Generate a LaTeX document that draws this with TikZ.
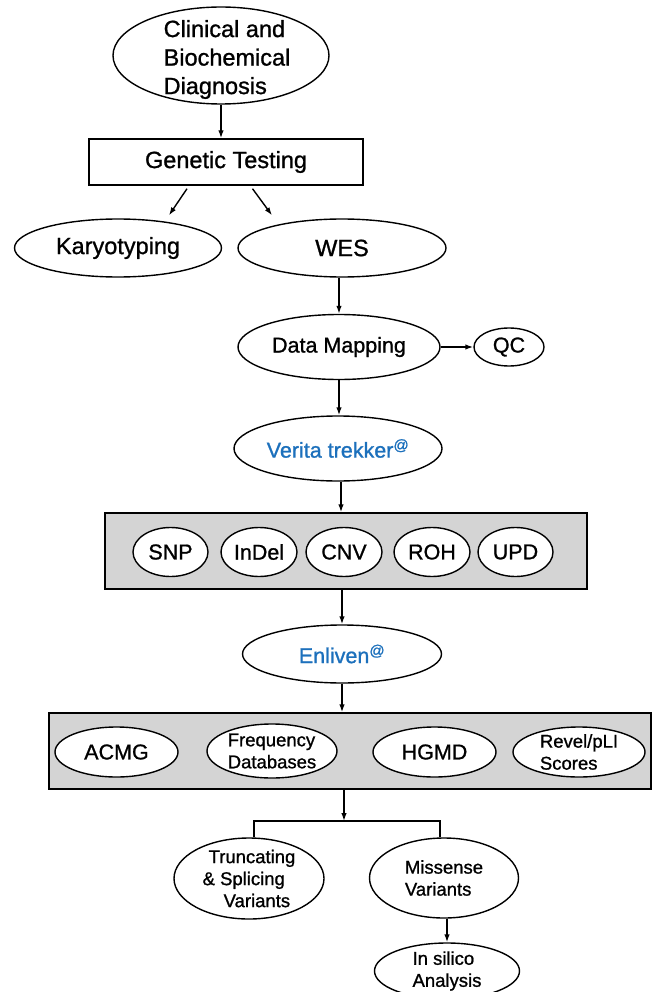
\documentclass[tikz,border=0pt]{standalone}
\usepackage{fontspec}
\setmainfont{Liberation Sans}[FakeBold=1]
\usetikzlibrary{shapes.geometric,arrows.meta}
\definecolor{toolblue}{RGB}{28,112,188}
\definecolor{panelgray}{RGB}{212,212,212}

\begin{document}
\begin{tikzpicture}[x=1pt, y=-1pt, line width=1.4pt,
    oval/.style={ellipse, draw, fill=white, inner sep=0pt},
    panel/.style={rectangle, draw, fill=panelgray, inner sep=0pt},
    flow/.style={-{Latex[length=8pt,width=5.5pt]}},
    big/.style={font=\fontsize{23.5}{28.5}\selectfont},
    mid/.style={font=\fontsize{21.5}{26}\selectfont},
    small/.style={font=\fontsize{18.5}{22}\selectfont},
    tool/.style={mid, text=toolblue}]

    \useasboundingbox (0,0) rectangle (652,992);

    % Diagnosis and testing
    \node[oval, big, align=left, inner ysep=-10pt, minimum width=216pt, minimum height=97pt] (clin) at (221,55.5) {\rule{0pt}{25pt}\hspace*{12pt}Clinical and\\\hspace*{12pt}Biochemical\\\hspace*{12pt}Diagnosis};
    \node[rectangle, draw, big, minimum width=274pt, minimum height=46pt] (gen) at (226,162) {Genetic Testing};
    \node[oval, big, minimum width=207pt, minimum height=58pt] (karyo) at (118,248) {Karyotyping};
    \node[oval, big, minimum width=208pt, minimum height=58pt] (wes) at (342,248) {WES};
    \node[oval, mid, minimum width=202pt, minimum height=65pt] (map) at (339,347) {Data Mapping};
    \node[oval, mid, minimum width=70pt, minimum height=38pt] (qc) at (509,347) {QC};
    \node[oval, tool, minimum width=208pt, minimum height=65pt] (ver) at (338,448.5) {Verita trekker\textsuperscript{@}};

    % Variant calling panel
    \node[panel, minimum width=482pt, minimum height=76pt] (calls) at (346,551) {};
    \node[oval, mid, minimum width=75pt, minimum height=49pt] (snp) at (170.5,552) {SNP};
    \node[oval, mid, minimum width=76pt, minimum height=49pt] (indel) at (259,552) {InDel};
    \node[oval, mid, minimum width=76pt, minimum height=49pt] (cnv) at (344,552) {CNV};
    \node[oval, mid, minimum width=76pt, minimum height=49pt] (roh) at (432,552) {ROH};
    \node[oval, mid, minimum width=75pt, minimum height=49pt] (upd) at (515.5,552) {UPD};

    \node[oval, tool, minimum width=199pt, minimum height=58pt] (enl) at (342,654) {Enliven\textsuperscript{@}};

    % Annotation panel
    \node[panel, minimum width=602pt, minimum height=76pt] (annot) at (350,751) {};
    \node[oval, mid, minimum width=123pt, minimum height=50pt] (acmg) at (116.5,752) {ACMG};
    \node[oval, small, align=left, minimum width=130pt, minimum height=54pt] (freq) at (272,751) {Frequency\\Databases};
    \node[oval, mid, minimum width=123pt, minimum height=50pt] (hgmd) at (434.5,752) {HGMD};
    \node[oval, small, align=left, inner ysep=-2pt, minimum width=132pt, minimum height=50pt] (revel) at (579,752) {Revel/pLI\\Scores};

    % Variant classes
    \coordinate (split) at (344,821);
    \node[oval, small, align=left, inner ysep=-2pt, minimum width=150pt, minimum height=81pt] (trunc) at (249,878.5) {\hspace*{6pt}Truncating\\\& Splicing\\\hspace*{21pt}Variants};
    \node[oval, small, align=left, minimum width=149pt, minimum height=80pt] (miss) at (444,878) {Missense\\Variants};
    \node[oval, small, align=left, inner ysep=-1pt, minimum width=145pt, minimum height=56pt] (silico) at (447,971) {In silico\\Analysis};

    % Arrows
    \draw[flow] (clin.south) -- (clin.south |- gen.north);
    \draw[flow] ([shift={(-39pt,-3pt)}]gen.south) -- ([shift={(51pt,3pt)}]karyo.north);
    \draw[flow] ([shift={(26.5pt,-3pt)}]gen.south) -- ([shift={(-70pt,3pt)}]wes.north);
    \draw[flow] (map.north |- wes.south) -- (map.north);
    \draw[flow] (map.east) -- (qc.west);
    \draw[flow] (map.south) -- (map.south |- ver.north);
    \draw[flow] ([xshift=3pt]ver.south) -- ([xshift=3pt]ver.south |- calls.north);
    \draw[flow] (calls.south -| enl.north) -- (enl.north);
    \draw[flow] (enl.south) -- (enl.south |- annot.north);
    \draw[flow] (annot.south -| split) -- (split);
    \draw ([xshift=5pt]trunc.north) |- (split) -| ([xshift=-4pt]miss.north);
    \draw[flow] (silico.north |- miss.south) -- (silico.north);
\end{tikzpicture}
\end{document}
